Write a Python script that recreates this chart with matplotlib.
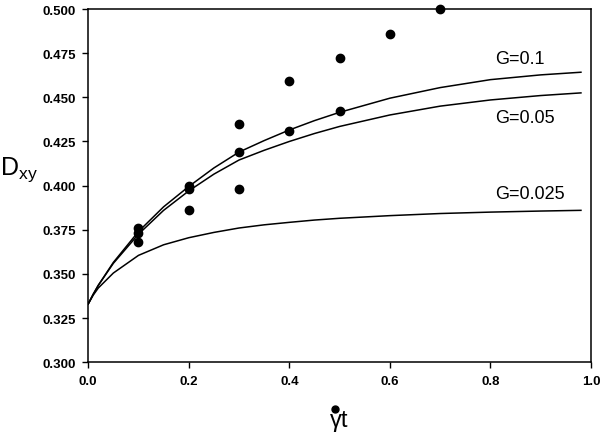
import matplotlib
matplotlib.use("Agg")
import matplotlib.pyplot as plt
from matplotlib.lines import Line2D

plt.rcParams['font.family'] = ['Liberation Sans', 'DejaVu Sans']
plt.rcParams['mathtext.fontset'] = 'custom'
plt.rcParams['mathtext.rm'] = 'Liberation Sans'
plt.rcParams['mathtext.it'] = 'Liberation Sans'

# measured points
x_pts = [0.1, 0.1, 0.1, 0.2, 0.2, 0.2, 0.3, 0.3, 0.3, 0.4, 0.4, 0.5, 0.5, 0.6, 0.7]
y_pts = [0.376, 0.373, 0.368, 0.400, 0.398, 0.386, 0.435, 0.419, 0.398,
         0.459, 0.431, 0.472, 0.442, 0.486, 0.500]

# model curves
x_curve = [0.0, 0.01, 0.02, 0.05, 0.1, 0.15, 0.2, 0.25, 0.3, 0.35, 0.4, 0.45,
           0.5, 0.6, 0.7, 0.8, 0.9, 0.98]
g_01 = [0.333, 0.3385, 0.3435, 0.3565, 0.374, 0.388, 0.3995, 0.410, 0.419,
        0.4255, 0.4315, 0.4368, 0.4415, 0.4495, 0.4555, 0.460, 0.4627, 0.4642]
g_005 = [0.333, 0.3385, 0.3435, 0.356, 0.3725, 0.386, 0.397, 0.4065, 0.4145,
         0.420, 0.425, 0.4295, 0.4335, 0.440, 0.445, 0.4485, 0.451, 0.4525]
g_0025 = [0.333, 0.338, 0.342, 0.3505, 0.3605, 0.3665, 0.3705, 0.3735, 0.376,
          0.3778, 0.3792, 0.3805, 0.3815, 0.383, 0.3842, 0.385, 0.3856, 0.386]
curve_labels = ["G=0.1", "G=0.05", "G=0.025"]
label_y = [0.4717, 0.4388, 0.3958]

fig = plt.figure(figsize=(6, 4.35), dpi=100)
ax = fig.add_axes([0.147, 0.165, 0.838, 0.812])

for ys in (g_01, g_005, g_0025):
    ax.plot(x_curve, ys, color='black', lw=1.1)
ax.plot(x_pts, y_pts, 'o', color='black', ms=6, clip_on=False, zorder=5)

for lab, yl in zip(curve_labels, label_y):
    ax.text(0.81, yl, lab, fontsize=13, va='center', ha='left')

ax.set_xlim(0, 1.0)
ax.set_ylim(0.3, 0.5)
ax.set_xticks([0.0, 0.2, 0.4, 0.6, 0.8, 1.0])
ax.set_yticks([0.300, 0.325, 0.350, 0.375, 0.400, 0.425, 0.450, 0.475, 0.500])
ax.set_xticklabels(['0.0', '0.2', '0.4', '0.6', '0.8', '1.0'], fontweight='bold', fontsize=9.5)
ax.set_yticklabels(['%.3f' % v for v in ax.get_yticks()], fontweight='bold', fontsize=9.5)
ax.tick_params(direction='out', length=4, width=1, pad=5)
for s in ax.spines.values():
    s.set_linewidth(1.1)

fig.text(0.0, 0.609, r'$\mathrm{D}_{\mathrm{xy}}$', fontsize=18, va='center', ha='left')
# x label: gamma-dot t, with a large dot over the gamma
fig.text(0.565, 0.032, 'γt', fontsize=17, va='center', ha='center')
fig.add_artist(Line2D([0.558], [0.058], marker='o', ms=5, color='black',
                      transform=fig.transFigure))

fig.savefig('out.png')
